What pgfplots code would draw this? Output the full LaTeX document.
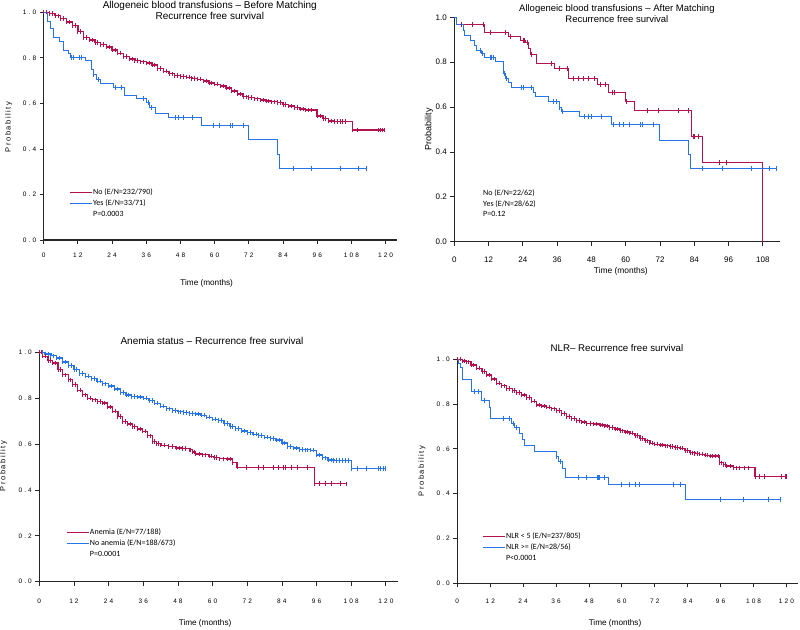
\documentclass[border=0pt]{standalone}
\usepackage{fontspec}
\setmainfont{Liberation Sans}
\newfontfamily\legfont{Carlito}
\newfontfamily\spacedfont[LetterSpace=32]{Liberation Sans}
\newfontfamily\labfont[LetterSpace=20]{Liberation Sans}
\usepackage{pgfplots}
\pgfplotsset{compat=1.18}
\definecolor{kmred}{RGB}{178,18,80}
\definecolor{kmblue}{RGB}{40,115,230}
\pgfplotsset{
 kmaxis/.style={scale only axis, axis lines=left,
   axis line style={-, line width=1.1pt, black!85},
   tick align=outside, major tick length=4pt,
   tick style={line width=0.8pt, black!85},
   ymin=0, ymax=1, xmin=0, clip=false,
   ytick={0,0.2,0.4,0.6,0.8,1}, yticklabels={0.0,0.2,0.4,0.6,0.8,1.0},
   legend cell align=left,
   legend image code/.code={\draw[#1,line width=0.9pt] (0pt,0pt) -- (22pt,0pt);},
   legend style={draw=none, fill=none, inner sep=0pt,
     font=\legfont\fontsize{8}{9.5}\selectfont,
     nodes={inner sep=1pt, text height=6pt, text depth=1.5pt},
     row sep=1.5pt, anchor=north west}},
 smallticks/.style={ticklabel style={font=\spacedfont\fontsize{6.5}{7}\selectfont}},
 dense/.style={const plot, line width=1.3pt, mark=|, mark size=2.2pt, mark options={line width=0.8pt}, forget plot},
 stepc/.style={const plot, line width=1.0pt, mark=none, forget plot},
 cens/.style={only marks, mark=|, mark size=2.5pt, mark options={line width=0.8pt}, forget plot},
 dcens/.style={only marks, mark=|, mark size=2.2pt, mark options={line width=0.8pt}, forget plot},
}
\begin{document}
\begin{tikzpicture}
\useasboundingbox (0pt,0pt) rectangle (800pt,629pt);

% ---------- Panel 1 ----------
\begin{axis}[kmaxis, smallticks, at={(43.7pt,389pt)}, anchor=south west,
  width=353.3pt, height=227.7pt, xmax=124,
  xtick={0,12,...,120}, xticklabels={0,12,24,36,48,60,72,84,96,108,120},
  xticklabel style={yshift=-5pt},
  legend style={at={(axis cs:8.9,0.231)}}]
\addplot[dense, kmred] coordinates {(0,1.0)(2,0.995)(4,0.985)(6,0.973)(8,0.957)(10,0.942)(12,0.915)(14,0.89)(16,0.878)(18,0.868)(20,0.858)(22,0.848)(24,0.835)(26,0.82)(28,0.806)(30,0.795)(32,0.789)(34,0.783)(36,0.777)(38,0.768)(40,0.753)(42,0.741)(44,0.73)(46,0.723)(48,0.718)(50,0.715)(52,0.71)(54,0.706)(56,0.698)(58,0.69)(60,0.684)(62,0.676)(64,0.667)(66,0.655)(68,0.641)(70,0.629)(72,0.625)(74,0.62)(76,0.615)(78,0.611)(80,0.607)(82,0.603)(84,0.595)(86,0.589)(88,0.582)(90,0.575)(92,0.571)(94,0.571)(95.9,0.545)(98,0.534)(100,0.523)(102,0.52)(104,0.52)(106,0.52)(108.3,0.483)(110,0.483)(117.3,0.483)(118.1,0.483)(119,0.483)(119.6,0.483)};
\addplot[dcens, kmred] coordinates {(1,1.0)(3,0.995)(5,0.985)(7,0.973)(9,0.957)(11,0.942)(13,0.915)(15,0.89)(17,0.878)(19,0.868)(21,0.858)(23,0.848)(25,0.835)(27,0.82)(29,0.806)(31,0.795)(33,0.789)(35,0.783)(37,0.777)(39,0.768)(41,0.753)(43,0.741)(45,0.73)(47,0.723)(49,0.718)(51,0.715)(53,0.71)(55,0.706)(57,0.698)(59,0.69)(61,0.684)(63,0.676)(65,0.667)(67,0.655)(69,0.641)(71,0.629)(73,0.625)(75,0.62)(77,0.615)(79,0.611)(81,0.607)(83,0.603)(85,0.595)(87,0.589)(89,0.582)(91,0.575)(93,0.571)(97,0.545)(99,0.534)(101,0.523)(103,0.52)(105,0.52)};
\addplot[stepc, kmblue] coordinates {(0,1)(1.3,0.96)(2.5,0.93)(3.6,0.89)(5.5,0.873)(6.9,0.831)(8.6,0.817)(9.4,0.802)(14.5,0.787)(16.8,0.748)(17.4,0.726)(18.6,0.707)(19.8,0.688)(24.4,0.671)(28.5,0.635)(32.6,0.62)(36.1,0.602)(37.3,0.58)(39.4,0.556)(43.7,0.539)(55.5,0.505)(72.0,0.442)(82.2,0.376)(82.9,0.316)(113.2,0.316)};
\addplot[cens, kmblue] coordinates {(9.8,0.802)(10.4,0.802)(12.7,0.802)(13.3,0.802)(17.6,0.726)(19.1,0.707)(25,0.671)(27.3,0.671)(34.9,0.62)(36.6,0.602)(37.8,0.58)(46.2,0.539)(47.4,0.539)(49.2,0.539)(52.1,0.539)(59.5,0.505)(61.6,0.505)(65.5,0.505)(66.2,0.505)(70.0,0.505)(87.5,0.316)(93.9,0.316)(104.2,0.316)(110.5,0.316)(113.2,0.316)};
\addlegendimage{kmred}\addlegendentry{No (E/N=232/790)}
\addlegendimage{kmblue}\addlegendentry{Yes (E/N=33/71)}
\addlegendimage{empty legend}\addlegendentry{P=0.0003}
\node[font=\fontsize{10}{11}\selectfont, align=center] at (axis cs:58.3,1.008) {Allogeneic blood transfusions – Before Matching\\Recurrence free survival};
\node[font=\fontsize{8.2}{10}\selectfont] at (axis cs:57.2,-0.189) {Time (months)};
\node[rotate=90, font=\labfont\fontsize{7.5}{9}\selectfont] at (axis cs:-12.3,0.496) {Probability};
\end{axis}

% ---------- Panel 2 ----------
\begin{axis}[kmaxis, at={(454.3pt,387.3pt)}, anchor=south west,
  width=325.7pt, height=224.4pt, xmax=114,
  xtick={0,12,...,108}, xticklabels={0,12,24,36,48,60,72,84,96,108},
  ticklabel style={font=\fontsize{8}{9}\selectfont},
  xticklabel style={yshift=-8pt}]
\addplot[stepc, kmred] coordinates {(0,1)(0.8,0.967)(10.5,0.933)(18.9,0.915)(23.2,0.897)(24.9,0.887)(26.0,0.86)(26.6,0.833)(28.6,0.793)(35.0,0.774)(39.9,0.729)(50.1,0.70)(53.8,0.667)(60.0,0.624)(63.2,0.584)(83.0,0.468)(87.0,0.352)(108.0,0)};
\addplot[cens, kmred] coordinates {(2.6,0.967)(6.4,0.967)(10.1,0.967)(12.5,0.933)(17.8,0.933)(19.5,0.915)(24.2,0.897)(24.5,0.897)(25.6,0.887)(27.0,0.833)(34.0,0.793)(36.7,0.774)(39.5,0.774)(41.6,0.729)(43.3,0.729)(45.1,0.729)(46.8,0.729)(49.2,0.729)(51.3,0.70)(52.8,0.70)(55.2,0.667)(56.2,0.667)(60.3,0.624)(67.6,0.584)(71.3,0.584)(78.3,0.584)(82.1,0.584)(83.6,0.468)(84.0,0.468)(85.6,0.468)(92.9,0.352)(95.4,0.352)};
\addplot[stepc, kmblue] coordinates {(0,1)(0.8,0.967)(3.1,0.942)(3.7,0.92)(5.5,0.897)(6.9,0.875)(7.8,0.853)(9.6,0.838)(10.4,0.823)(14.3,0.804)(17.2,0.749)(17.8,0.727)(19.0,0.709)(20.1,0.688)(27.6,0.665)(28.3,0.645)(32.9,0.626)(36.7,0.60)(37.5,0.581)(43.9,0.556)(55.0,0.521)(71.7,0.453)(82.0,0.389)(82.7,0.325)(112.7,0.325)};
\addplot[cens, kmblue] coordinates {(9.0,0.853)(9.9,0.838)(12.5,0.823)(13.1,0.823)(13.6,0.823)(17.5,0.749)(18.3,0.727)(23.6,0.688)(24.1,0.688)(27.0,0.688)(34.6,0.626)(35.8,0.626)(36.9,0.60)(37.8,0.581)(45.7,0.556)(46.9,0.556)(48.0,0.556)(51.6,0.556)(55.6,0.521)(57.7,0.521)(59.1,0.521)(61.4,0.521)(65.2,0.521)(65.9,0.521)(69.6,0.521)(87.0,0.325)(93.7,0.325)(103.9,0.325)(110.3,0.325)(112.7,0.325)};
\node[anchor=north west, align=left, inner sep=1pt, font=\legfont\fontsize{8}{10.5}\selectfont] at (axis cs:9.7,0.237) {No (E/N=22/62)\\Yes (E/N=28/62)\\P=0.12};
\node[font=\fontsize{9.5}{11}\selectfont, align=center] at (axis cs:56.9,1.017) {Allogeneic blood transfusions – After Matching\\Recurrence free survival};
\node[font=\fontsize{8.4}{10}\selectfont] at (axis cs:58.3,-0.131) {Time (months)};
\node[rotate=90, font=\fontsize{9}{10}\selectfont] at (axis cs:-8.8,0.502) {Probability};
\end{axis}

% ---------- Panel 3 ----------
\begin{axis}[kmaxis, smallticks, at={(39.3pt,47.3pt)}, anchor=south west,
  width=358.7pt, height=229.4pt, xmax=124.2,
  xtick={0,12,...,120}, xticklabels={0,12,24,36,48,60,72,84,96,108,120},
  xticklabel style={yshift=-10pt},
  legend style={at={(axis cs:9.2,0.236)}}]
\addplot[dense, kmblue] coordinates {(0,1.0)(2,0.993)(4,0.985)(6,0.975)(8,0.958)(10,0.942)(12,0.925)(14,0.908)(16,0.896)(18,0.885)(20,0.874)(22,0.863)(24,0.853)(26,0.84)(28,0.825)(30,0.814)(32,0.808)(34,0.805)(36,0.8)(38,0.79)(40,0.778)(42,0.765)(44,0.754)(46,0.747)(48,0.741)(50,0.737)(52,0.734)(54,0.731)(56,0.726)(58,0.717)(60,0.708)(62,0.702)(64,0.69)(66,0.677)(68,0.668)(70,0.657)(72,0.65)(74,0.643)(76,0.637)(78,0.63)(80,0.625)(82,0.618)(84,0.605)(86,0.59)(88,0.583)(90,0.577)(92,0.575)(94,0.573)(96,0.552)(98,0.54)(100,0.53)(102,0.529)(104,0.529)(106,0.529)(108.1,0.494)(110,0.494)(113.4,0.494)(117.4,0.494)(118.2,0.494)(119,0.494)(119.7,0.494)};
\addplot[dcens, kmblue] coordinates {(1,1.0)(3,0.993)(5,0.985)(7,0.975)(9,0.958)(11,0.942)(13,0.925)(15,0.908)(17,0.896)(19,0.885)(21,0.874)(23,0.863)(25,0.853)(27,0.84)(29,0.825)(31,0.814)(33,0.808)(35,0.805)(37,0.8)(39,0.79)(41,0.778)(43,0.765)(45,0.754)(47,0.747)(49,0.741)(51,0.737)(53,0.734)(55,0.731)(57,0.726)(59,0.717)(61,0.708)(63,0.702)(65,0.69)(67,0.677)(69,0.668)(71,0.657)(73,0.65)(75,0.643)(77,0.637)(79,0.63)(81,0.625)(83,0.618)(85,0.605)(87,0.59)(89,0.583)(91,0.577)(93,0.575)(95,0.573)(97,0.552)(99,0.54)(101,0.53)(103,0.529)(105,0.529)(107,0.529)};
\addplot[dense, kmred] coordinates {(0,1)(1.2,0.983)(3,0.965)(4.6,0.953)(6.5,0.925)(8.1,0.902)(10,0.88)(11.6,0.859)(13.3,0.835)(15,0.815)(16.8,0.8)(18.5,0.793)(20.2,0.786)(21.9,0.779)(23.6,0.762)(25.4,0.743)(27.2,0.72)(28.9,0.699)(30.6,0.688)(32.3,0.677)(34,0.666)(35.8,0.656)(37.5,0.636)(39.3,0.612)(40.7,0.602)(42.1,0.595)(44.7,0.59)(47.3,0.583)(49.6,0.58)(51.9,0.575)(53,0.566)(54.2,0.557)(56.5,0.553)(58.8,0.547)(60.5,0.541)(62.3,0.536)(65,0.535)(67,0.52)(68.5,0.499)(95.4,0.427)(106.4,0.427)};
\addplot[dcens, kmred] coordinates {(0.6,1)(2.1,0.983)(3.8,0.965)(5.5,0.953)(7.3,0.925)(9,0.902)(10.8,0.88)(12.4,0.859)(14.1,0.835)(15.9,0.815)(17.6,0.8)(19.3,0.793)(21,0.786)(22.7,0.779)(24.5,0.762)(26.3,0.743)(28,0.72)(29.7,0.699)(31.4,0.688)(33.1,0.677)(34.9,0.666)(36.6,0.656)(38.4,0.636)(40,0.612)(41.4,0.602)(43.4,0.595)(46,0.59)(48.5,0.583)(50.7,0.58)(52.4,0.575)(53.6,0.566)(55.3,0.557)(57.6,0.553)(59.6,0.547)(61.4,0.541)(63.6,0.536)(66,0.535)};
\addplot[cens, kmred] coordinates {(71.8,0.499)(75.8,0.499)(77.6,0.499)(81.1,0.499)(82.8,0.499)(84.5,0.499)(85.1,0.499)(87.4,0.499)(89.4,0.499)(92.7,0.499)(97.1,0.427)(98.9,0.427)(101.2,0.427)(104.1,0.427)};
\addlegendimage{kmred}\addlegendentry{Anemia (E/N=77/188)}
\addlegendimage{kmblue}\addlegendentry{No anemia (E/N=188/673)}
\addlegendimage{empty legend}\addlegendentry{P=0.0001}
\node[font=\fontsize{10}{11}\selectfont] at (axis cs:59.8,1.049) {Anemia status – Recurrence free survival};
\node[font=\fontsize{8.2}{10}\selectfont] at (axis cs:57.4,-0.18) {Time (months)};
\node[rotate=90, font=\labfont\fontsize{7.5}{9}\selectfont] at (axis cs:-12.4,0.504) {Probability};
\end{axis}

% ---------- Panel 4 ----------
\begin{axis}[kmaxis, smallticks, at={(457.3pt,45.7pt)}, anchor=south west,
  width=340.7pt, height=224pt, xmax=124.2,
  xtick={0,12,...,120}, xticklabels={0,12,24,36,48,60,72,84,96,108,120},
  xticklabel style={yshift=-8pt},
  legend style={at={(axis cs:9.0,0.233)}}]
\addplot[dense, kmred] coordinates {(0,1)(2,0.993)(3.4,0.989)(5,0.975)(7.1,0.96)(9,0.945)(10.7,0.93)(12.5,0.912)(14.4,0.893)(16,0.882)(18,0.87)(20,0.86)(21.6,0.851)(23.5,0.84)(25.3,0.829)(27,0.813)(28.9,0.796)(30.7,0.791)(32.6,0.786)(34.4,0.779)(36.2,0.771)(38,0.758)(39.9,0.744)(41.7,0.735)(43.5,0.726)(45.3,0.72)(47.2,0.714)(49.6,0.711)(52,0.707)(53.8,0.702)(55.6,0.696)(57.5,0.689)(59.3,0.681)(61.1,0.676)(62.9,0.67)(64.8,0.659)(66.6,0.647)(68.4,0.636)(70.2,0.625)(72,0.621)(73.9,0.617)(75.7,0.614)(77.5,0.61)(79.4,0.607)(81.2,0.603)(83,0.593)(84.8,0.583)(86.6,0.58)(88.4,0.576)(90.3,0.572)(92.1,0.568)(95.1,0.568)(95.5,0.538)(97,0.53)(98.2,0.524)(100.6,0.516)(103,0.516)(106,0.516)(108.5,0.476)(110,0.476)(112,0.476)(118,0.476)(119.5,0.476)(120,0.476)};
\addplot[dcens, kmred] coordinates {(1,1)(2.7,0.993)(4.2,0.989)(6,0.975)(8,0.96)(9.9,0.945)(11.6,0.93)(13.4,0.912)(15.2,0.893)(17,0.882)(19,0.87)(20.8,0.86)(22.5,0.851)(24.4,0.84)(26.1,0.829)(28,0.813)(29.8,0.796)(31.6,0.791)(33.5,0.786)(35.3,0.779)(37.1,0.771)(39,0.758)(40.8,0.744)(42.6,0.735)(44.4,0.726)(46.2,0.72)(48.4,0.714)(50.8,0.711)(52.9,0.707)(54.7,0.702)(56.5,0.696)(58.4,0.689)(60.2,0.681)(62,0.676)(63.8,0.67)(65.7,0.659)(67.5,0.647)(69.3,0.636)(71.1,0.625)(73,0.621)(74.8,0.617)(76.6,0.614)(78.5,0.61)(80.3,0.607)(82.1,0.603)(83.9,0.593)(85.7,0.583)(87.5,0.58)(89.3,0.576)(91.2,0.572)(93,0.568)(94,0.568)(96.3,0.538)(97.6,0.53)(99.4,0.524)(101.8,0.516)(104.5,0.516)};
\addplot[stepc, kmblue] coordinates {(0,1)(0.5,0.982)(1.0,0.964)(1.8,0.911)(5.2,0.855)(8.8,0.818)(11.7,0.786)(12.2,0.737)(19.7,0.714)(20.9,0.695)(22.7,0.67)(23.9,0.64)(24.5,0.617)(28.1,0.588)(36.1,0.565)(37.0,0.543)(38.5,0.513)(39.4,0.471)(55.2,0.439)(83.3,0.375)(117.6,0.375)};
\addplot[cens, kmblue] coordinates {(6.3,0.855)(7.8,0.855)(10.0,0.818)(16.7,0.737)(19.1,0.737)(20.3,0.714)(21.5,0.695)(36.3,0.565)(37.5,0.543)(44.0,0.471)(47.0,0.471)(50.9,0.471)(51.3,0.471)(51.9,0.471)(53.7,0.471)(59.9,0.439)(62.7,0.439)(64.8,0.439)(66.3,0.439)(78.7,0.439)(81.2,0.439)(96.0,0.375)(104.2,0.375)(113.3,0.375)(117.6,0.375)};
\addlegendimage{kmred}\addlegendentry{NLR < 5 (E/N=237/805)}
\addlegendimage{kmblue}\addlegendentry{NLR >= (E/N=28/56)}
\addlegendimage{empty legend}\addlegendentry{P<0.0001}
\node[font=\fontsize{9.7}{11}\selectfont] at (axis cs:58.2,1.05) {NLR– Recurrence free survival};
\node[font=\fontsize{8.2}{10}\selectfont] at (axis cs:57.5,-0.177) {Time (months)};
\node[rotate=90, font=\labfont\fontsize{7.5}{9}\selectfont] at (axis cs:-12.9,0.501) {Probability};
\end{axis}
\end{tikzpicture}
\end{document}
